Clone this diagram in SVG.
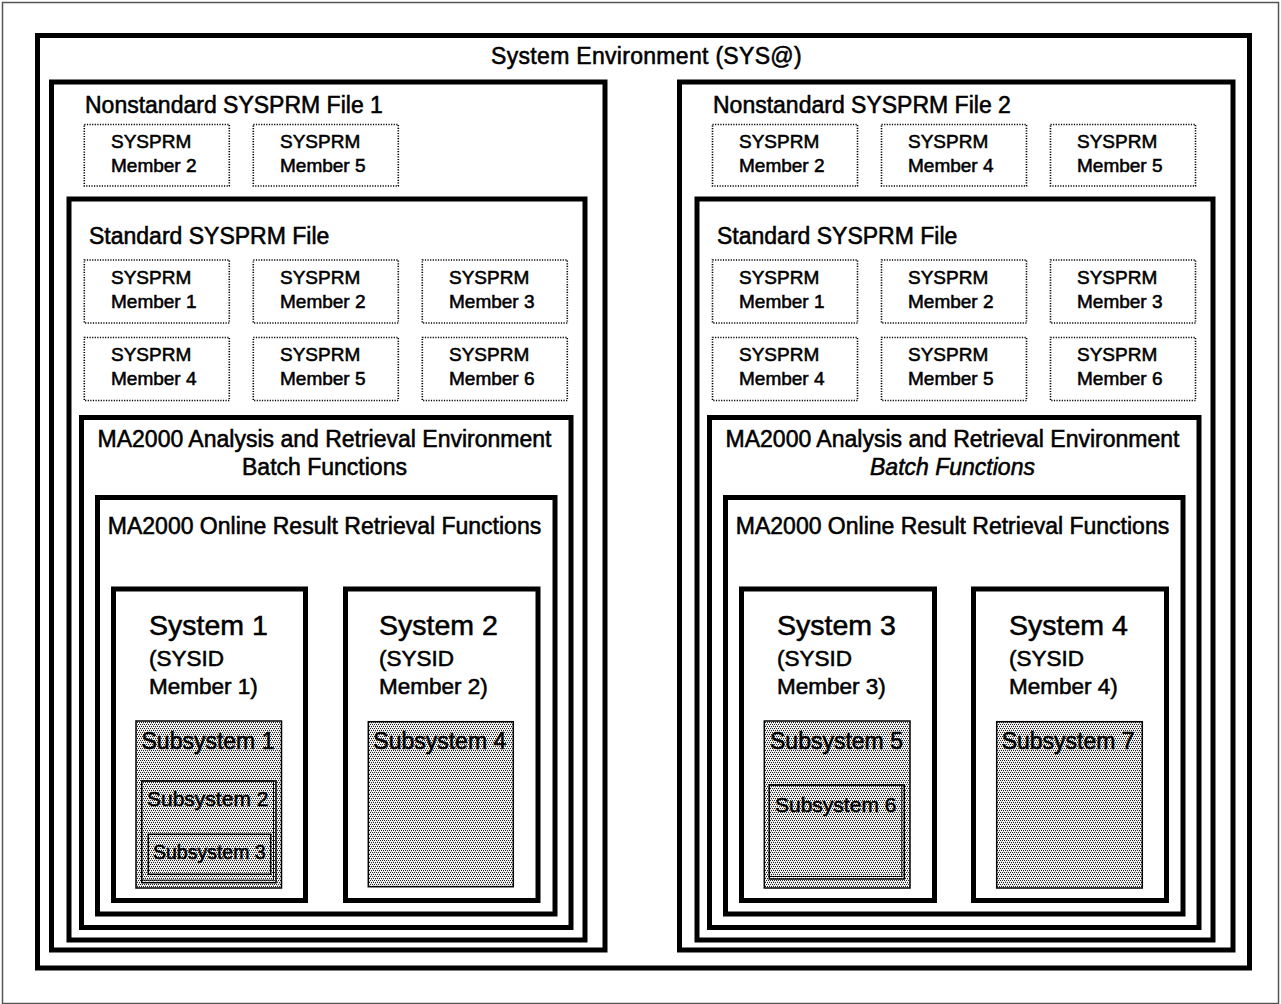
<svg xmlns="http://www.w3.org/2000/svg" width="1281" height="1004" viewBox="0 0 1281 1004">
<defs>
<pattern id="dots" x="0" y="0" width="4" height="4" patternUnits="userSpaceOnUse">
<rect width="4" height="4" fill="#f4f4f4"/>
<rect x="0" y="0" width="1" height="1" fill="#222"/>
<rect x="2" y="0" width="1" height="1" fill="#222"/>
<rect x="1" y="2" width="1" height="1" fill="#222"/>
<rect x="3" y="2" width="1" height="1" fill="#222"/>
<rect x="1" y="1" width="1" height="1" fill="#bbb"/>
<rect x="3" y="3" width="1" height="1" fill="#bbb"/>
</pattern>
<style>
text{font-family:"Liberation Sans",Arial,sans-serif;fill:#000;stroke:#000;stroke-width:0.55}
.thick{fill:none;stroke:#000;stroke-width:5}
.sysbox{fill:#fff;stroke:#000;stroke-width:5}
.mem{fill:#fff;stroke:#000;stroke-width:1.6;stroke-dasharray:1.2 1.4}
.sub{fill:url(#dots);stroke:#000;stroke-width:1.5}
.lbl{font-size:23px}
.mt{font-size:19px}
.sys{font-size:28.5px}
.sid{font-size:22.5px}
.c{text-anchor:middle}
</style>
</defs>
<rect x="0" y="0" width="1281" height="1004" fill="#fff"/>
<rect x="2.5" y="2.5" width="1276" height="1001" fill="none" stroke="#555" stroke-width="1.5"/>

<g id="system-environment">
<rect class="thick" x="37.5" y="35.5" width="1212" height="932.5"/>
<text class="lbl c" x="646.5" y="64" letter-spacing="0.3">System Environment (SYS@)</text>
</g>

<!-- LEFT SIDE -->
<g id="nonstd-file-1">
<rect class="thick" x="51.5" y="82" width="553.5" height="868"/>
<text class="lbl" x="85" y="112.5">Nonstandard SYSPRM File 1</text>
</g>
<g id="ns1-member2"><rect class="mem" x="84.3" y="124.5" width="145" height="61.5"/><text class="mt" x="111" y="148">SYSPRM</text><text class="mt" x="111" y="172">Member 2</text></g>
<g id="ns1-member5"><rect class="mem" x="253.3" y="124.5" width="145" height="61.5"/><text class="mt" x="280" y="148">SYSPRM</text><text class="mt" x="280" y="172">Member 5</text></g>

<g id="std-file-1">
<rect class="thick" x="69" y="199" width="516" height="741"/>
<text class="lbl" x="89" y="244">Standard SYSPRM File</text>
</g>
<g id="s1-member1"><rect class="mem" x="84.3" y="260" width="145" height="63"/><text class="mt" x="111" y="284">SYSPRM</text><text class="mt" x="111" y="308">Member 1</text></g>
<g id="s1-member2"><rect class="mem" x="253.3" y="260" width="145" height="63"/><text class="mt" x="280" y="284">SYSPRM</text><text class="mt" x="280" y="308">Member 2</text></g>
<g id="s1-member3"><rect class="mem" x="422.3" y="260" width="145" height="63"/><text class="mt" x="449" y="284">SYSPRM</text><text class="mt" x="449" y="308">Member 3</text></g>
<g id="s1-member4"><rect class="mem" x="84.3" y="337.5" width="145" height="63"/><text class="mt" x="111" y="361">SYSPRM</text><text class="mt" x="111" y="385">Member 4</text></g>
<g id="s1-member5"><rect class="mem" x="253.3" y="337.5" width="145" height="63"/><text class="mt" x="280" y="361">SYSPRM</text><text class="mt" x="280" y="385">Member 5</text></g>
<g id="s1-member6"><rect class="mem" x="422.3" y="337.5" width="145" height="63"/><text class="mt" x="449" y="361">SYSPRM</text><text class="mt" x="449" y="385">Member 6</text></g>

<g id="ma2000-batch-1">
<rect class="thick" x="81.5" y="417.5" width="489.5" height="510"/>
<text class="lbl c" x="324.5" y="447">MA2000 Analysis and Retrieval Environment</text>
<text class="lbl c" x="324.5" y="475">Batch Functions</text>
</g>
<g id="ma2000-online-1">
<rect class="thick" x="97.5" y="497.5" width="457.5" height="416.5"/>
<text class="lbl c" x="324.5" y="534">MA2000 Online Result Retrieval Functions</text>
</g>

<g id="system-1">
<rect class="sysbox" x="113.5" y="589" width="192" height="311.5"/>
<text class="sys" x="149" y="635">System 1</text>
<text class="sid" x="149" y="666">(SYSID</text>
<text class="sid" x="149" y="694">Member 1)</text>
</g>
<g id="subsystem-1"><rect class="sub" x="136" y="721" width="145.5" height="167"/><text class="lbl" x="141.5" y="749">Subsystem 1</text></g>
<g id="subsystem-2"><rect class="sub" x="141.7" y="781" width="134.3" height="101.7"/><rect x="141.7" y="781" width="131.8" height="99.2" fill="none" stroke="#000" stroke-width="1"/><text style="font-size:21px" x="147" y="806">Subsystem 2</text></g>
<g id="subsystem-3"><rect class="sub" x="148.3" y="834.3" width="122.4" height="40" stroke-width="2"/><text style="font-size:19.5px" x="153" y="859">Subsystem 3</text></g>

<g id="system-2">
<rect class="sysbox" x="345.5" y="589" width="192.5" height="311.5"/>
<text class="sys" x="379" y="635">System 2</text>
<text class="sid" x="379" y="666">(SYSID</text>
<text class="sid" x="379" y="694">Member 2)</text>
</g>
<g id="subsystem-4"><rect class="sub" x="368.3" y="721.7" width="145" height="165"/><text class="lbl" x="373.3" y="749">Subsystem 4</text></g>

<!-- RIGHT SIDE -->
<g id="nonstd-file-2">
<rect class="thick" x="679.5" y="82" width="553.5" height="868"/>
<text class="lbl" x="713" y="112.5">Nonstandard SYSPRM File 2</text>
</g>
<g id="ns2-member2"><rect class="mem" x="712.5" y="124.5" width="145" height="61.5"/><text class="mt" x="739" y="148">SYSPRM</text><text class="mt" x="739" y="172">Member 2</text></g>
<g id="ns2-member4"><rect class="mem" x="881.5" y="124.5" width="145" height="61.5"/><text class="mt" x="908" y="148">SYSPRM</text><text class="mt" x="908" y="172">Member 4</text></g>
<g id="ns2-member5"><rect class="mem" x="1050.5" y="124.5" width="145" height="61.5"/><text class="mt" x="1077" y="148">SYSPRM</text><text class="mt" x="1077" y="172">Member 5</text></g>

<g id="std-file-2">
<rect class="thick" x="697" y="199" width="516" height="741"/>
<text class="lbl" x="717" y="244">Standard SYSPRM File</text>
</g>
<g id="s2-member1"><rect class="mem" x="712.5" y="260" width="145" height="63"/><text class="mt" x="739" y="284">SYSPRM</text><text class="mt" x="739" y="308">Member 1</text></g>
<g id="s2-member2"><rect class="mem" x="881.5" y="260" width="145" height="63"/><text class="mt" x="908" y="284">SYSPRM</text><text class="mt" x="908" y="308">Member 2</text></g>
<g id="s2-member3"><rect class="mem" x="1050.5" y="260" width="145" height="63"/><text class="mt" x="1077" y="284">SYSPRM</text><text class="mt" x="1077" y="308">Member 3</text></g>
<g id="s2-member4"><rect class="mem" x="712.5" y="337.5" width="145" height="63"/><text class="mt" x="739" y="361">SYSPRM</text><text class="mt" x="739" y="385">Member 4</text></g>
<g id="s2-member5"><rect class="mem" x="881.5" y="337.5" width="145" height="63"/><text class="mt" x="908" y="361">SYSPRM</text><text class="mt" x="908" y="385">Member 5</text></g>
<g id="s2-member6"><rect class="mem" x="1050.5" y="337.5" width="145" height="63"/><text class="mt" x="1077" y="361">SYSPRM</text><text class="mt" x="1077" y="385">Member 6</text></g>

<g id="ma2000-batch-2">
<rect class="thick" x="709.5" y="417.5" width="489.5" height="510"/>
<text class="lbl c" x="952.5" y="447">MA2000 Analysis and Retrieval Environment</text>
<text class="lbl c" x="952.5" y="475" font-style="italic">Batch Functions</text>
</g>
<g id="ma2000-online-2">
<rect class="thick" x="725.5" y="497.5" width="457.5" height="416.5"/>
<text class="lbl c" x="952.5" y="534">MA2000 Online Result Retrieval Functions</text>
</g>

<g id="system-3">
<rect class="sysbox" x="741.5" y="589" width="193" height="311.5"/>
<text class="sys" x="777" y="635">System 3</text>
<text class="sid" x="777" y="666">(SYSID</text>
<text class="sid" x="777" y="694">Member 3)</text>
</g>
<g id="subsystem-5"><rect class="sub" x="764.3" y="721" width="145.7" height="167"/><text class="lbl" x="770" y="749">Subsystem 5</text></g>
<g id="subsystem-6"><rect class="sub" x="769.3" y="785" width="135" height="94"/><rect x="769.3" y="785" width="132.5" height="91.5" fill="none" stroke="#000" stroke-width="1"/><text style="font-size:21px" x="775" y="811.5">Subsystem 6</text></g>

<g id="system-4">
<rect class="sysbox" x="973.5" y="589" width="193" height="311.5"/>
<text class="sys" x="1009" y="635">System 4</text>
<text class="sid" x="1009" y="666">(SYSID</text>
<text class="sid" x="1009" y="694">Member 4)</text>
</g>
<g id="subsystem-7"><rect class="sub" x="996.7" y="721.7" width="145.6" height="166.3"/><text class="lbl" x="1001.7" y="749">Subsystem 7</text></g>

<g id="connectors"/>
</svg>
